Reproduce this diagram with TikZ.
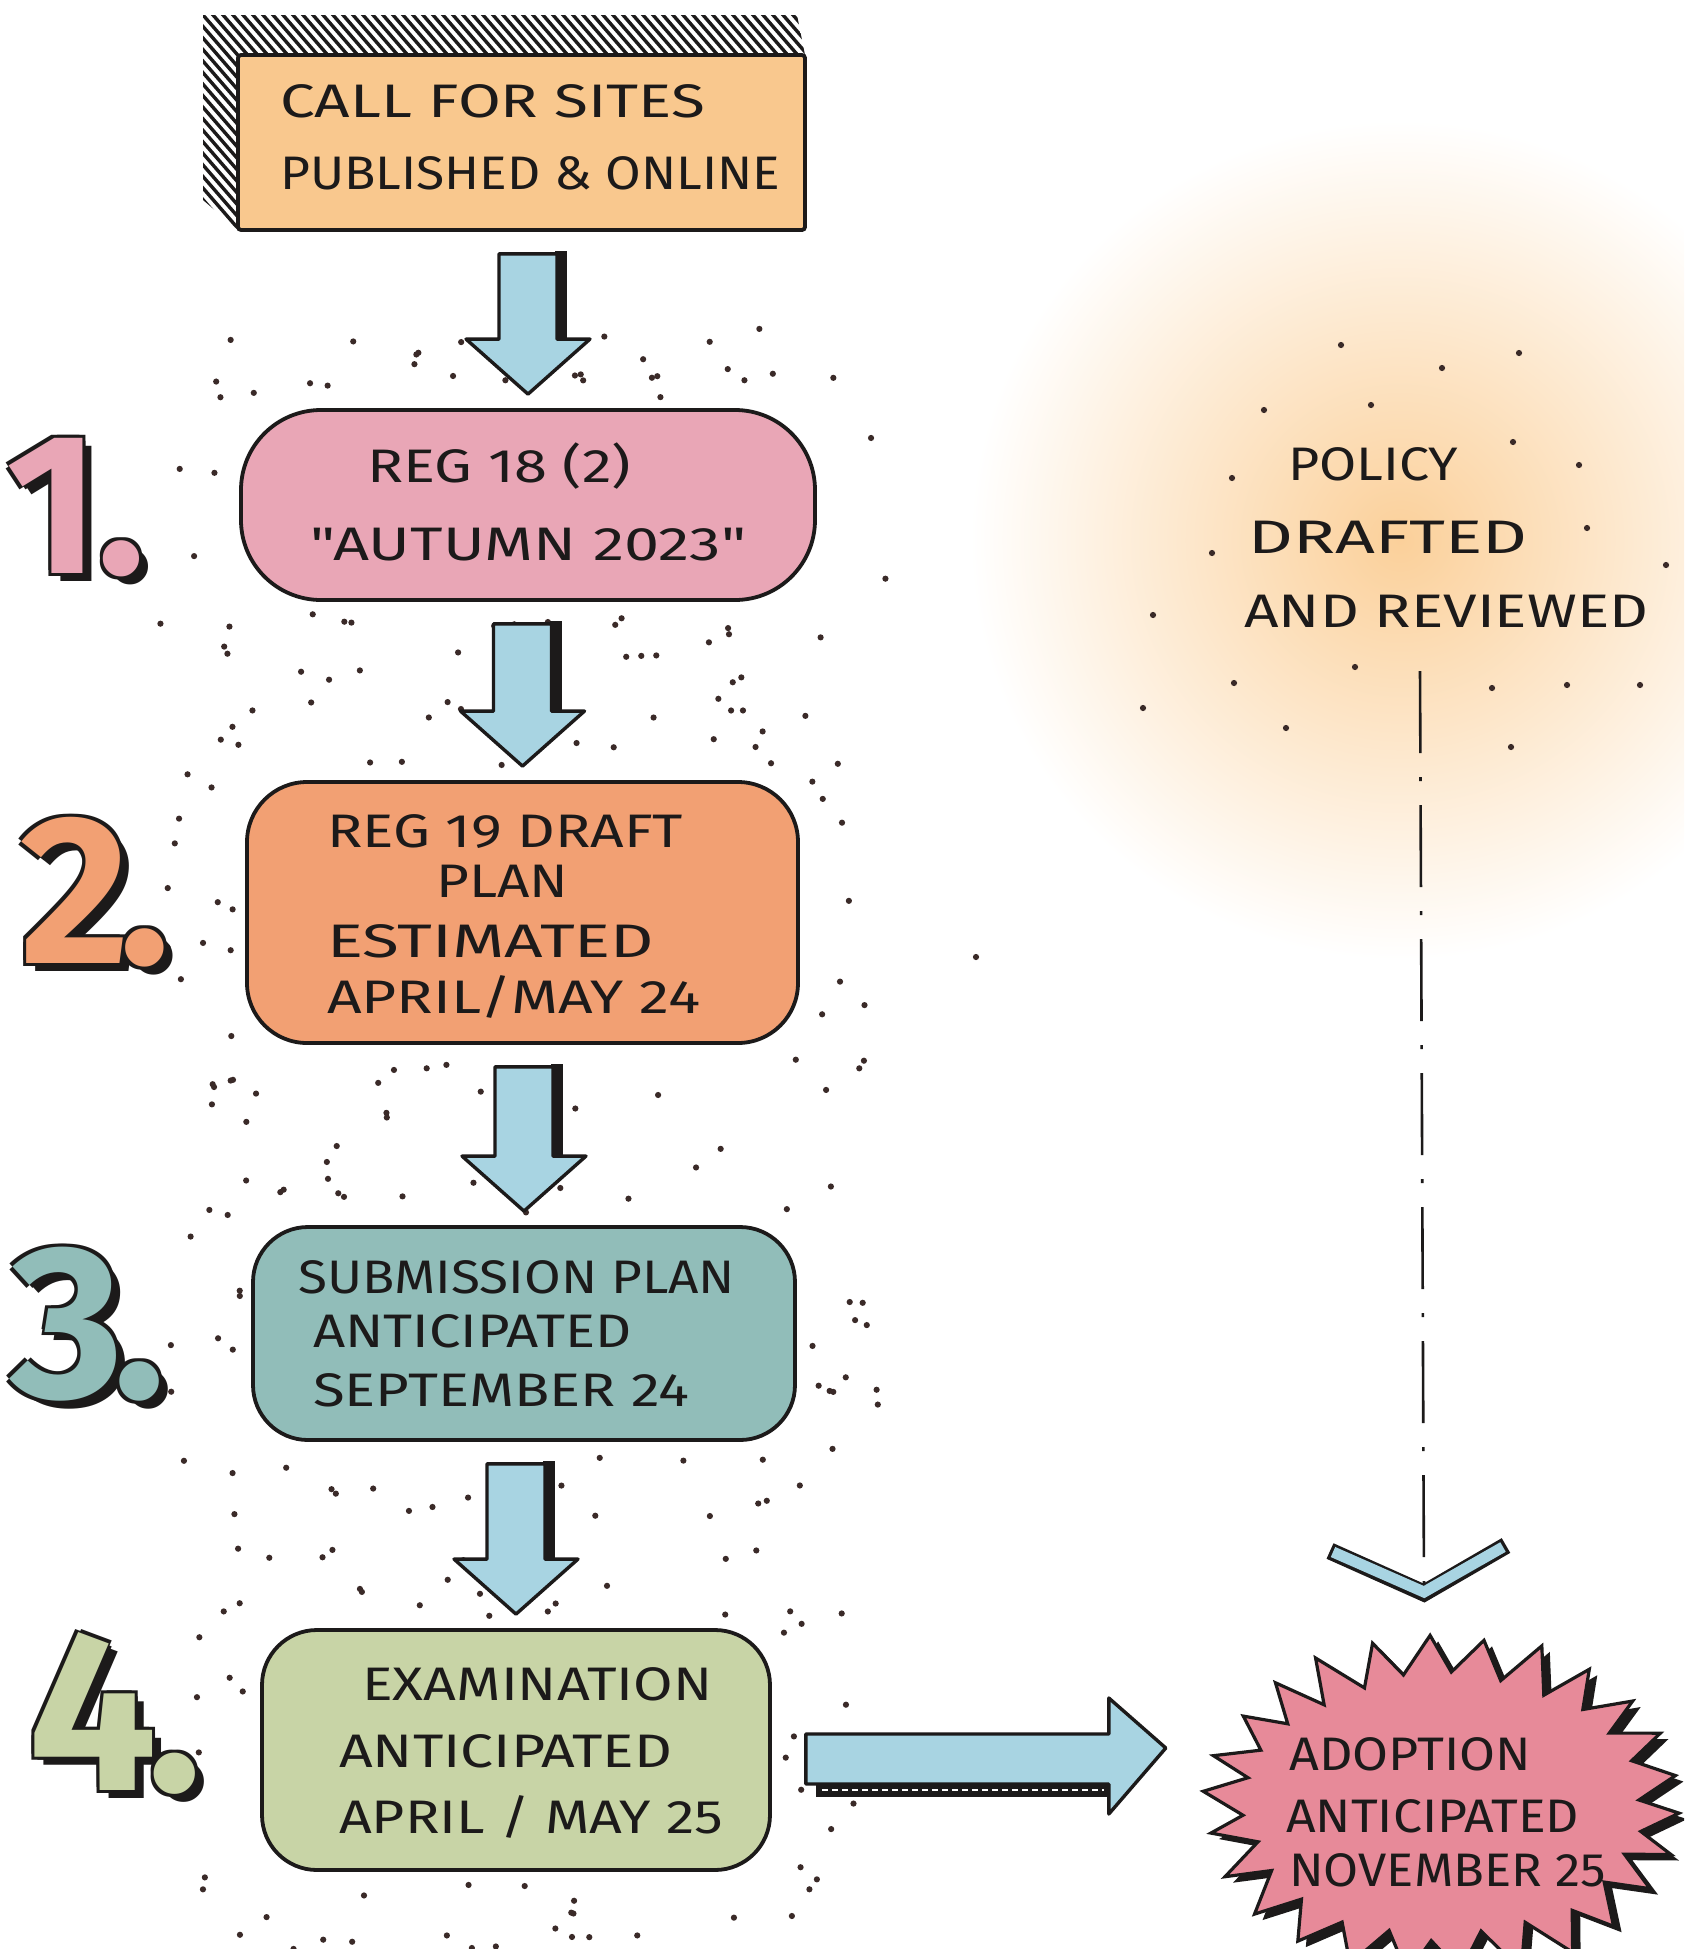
\documentclass[tikz,border=0pt]{standalone}
\usepackage{fontspec}
\usepackage{graphicx}
\setmainfont{Fira Sans}
\newfontfamily\handfont{Fira Sans}
\usetikzlibrary{calc}
\definecolor{ink}{HTML}{1C1A1A}
\definecolor{dotc}{HTML}{3A2A28}
\definecolor{c0}{HTML}{F9C88E}
\definecolor{c1}{HTML}{E9A6B6}
\definecolor{c2}{HTML}{F2A073}
\definecolor{c3}{HTML}{91BDB9}
\definecolor{c4}{HTML}{C8D4A6}
\definecolor{arrowc}{HTML}{A8D4E2}
\definecolor{starc}{HTML}{E78A99}
\definecolor{glowc}{HTML}{FBD09A}
\newcommand{\hl}[2]{\resizebox{#1pt}{\height}{#2}}
\newcommand{\bignum}[3]{{\fontsize{#1}{#1}\selectfont\bfseries
 \rlap{\kern9pt\raisebox{-8pt}{\color{ink}#3}}%
 \rlap{\kern3pt\raisebox{3pt}{\color{ink}#3}}%
 \rlap{\kern-3pt\raisebox{3pt}{\color{ink}#3}}%
 \rlap{\kern3pt\raisebox{-3pt}{\color{ink}#3}}%
 \rlap{\kern-3pt\raisebox{-3pt}{\color{ink}#3}}%
 {\color{#2}#3}}}
% stipple: x0 y0 W H count seed
\newcommand{\stipple}[6]{%
 \pgfmathsetseed{#6}%
 \foreach \k in {1,...,#5}{%
  \pgfmathsetmacro\t{rnd*(2*#3+2*#4)}%
  \pgfmathsetmacro\a{rnd}%
  \pgfmathsetmacro\d{12+rnd*72}%
  \pgfmathsetmacro\px{(\t<#3) ? (-40+\a*(#3+80)) : ((\t<#3+#4) ? (#3+\d) : ((\t<2*#3+#4) ? (-40+\a*(#3+80)) : (-\d)))}%
  \pgfmathsetmacro\py{(\t<#3) ? (-\d) : ((\t<#3+#4) ? (-30+\a*(#4+60)) : ((\t<2*#3+#4) ? (#4+\d) : (-30+\a*(#4+60))))}%
  \fill[dotc] ({#1+(\px)},{#2+(\py)}) circle (3.1pt);
 }}
% vertical block arrow from node #1 to node #2
\newcommand{\vblock}[2]{%
 \path let \p1=($(#1.south)+(0,22)$), \p2=($(#2.north)+(0,-14)$) in
   coordinate (vbs) at (\x2,\y1) coordinate (vbt) at (\x2,\y2);
 \fill[ink] ($(vbs)+(27,-3)$) rectangle ($(vbt)+(39,-55)$);
 \draw[arrowst] ($(vbs)+(-29,0)$) -- ($(vbs)+(29,0)$) -- ($(vbt)+(29,-55)$) -- ($(vbt)+(62,-55)$)
   -- (vbt) -- ($(vbt)+(-62,-55)$) -- ($(vbt)+(-29,-55)$) -- cycle;
}
\tikzset{
 box/.style={draw=ink, line width=3.8pt, rectangle, inner sep=0pt},
 arrowst/.style={fill=arrowc, draw=ink, line width=3.4pt, line join=round},
 hand/.style={font=\handfont\fontsize{47}{50}\selectfont, text=ink, inner sep=0pt, anchor=base west},
 numst/.style={inner sep=0pt, anchor=base west},
}
\begin{document}
\begin{tikzpicture}[x=1pt,y=-1pt]
\useasboundingbox (0,0) rectangle (1684,1949);
\fill[white] (0,0) rectangle (1684,1949);
\clip (0,0) rectangle (1684,1949);
% glow
\shade[inner color=glowc, outer color=white] (1400,540) ellipse [x radius=430pt, y radius=420pt];

% stipple dots
\stipple{241}{410}{574}{190}{62}{11}
\stipple{247}{782}{551}{261}{66}{23}
\stipple{253}{1227}{542}{213}{62}{37}
\stipple{262}{1630}{508}{240}{64}{41}
\foreach \p in {(1341,345),(1519,353),(1442,368),(1371,405),(1264,410),(1513,442),(1579,465),
  (1232,478),(1587,528),(1212,553),(1666,565),(1153,615),(1355,667),(1234,683),(1492,688),
  (1567,685),(1640,685),(1143,708),(1286,728),(1511,747),(976,957),(1437,1713)}
  \fill[dotc] \p circle (3.1pt);

% top box with hatched extrusion
\begin{scope}
 \clip (203,15) -- (797,15) -- (805,55) -- (238,55) -- (238,230) -- (203,200) -- cycle;
 \foreach \k in {-20,-10,...,830} \draw[ink, line width=3.4pt] (\k,0) -- ++(260,300);
\end{scope}
\node[box, fill=c0, rounded corners=3pt, minimum width=567pt, minimum height=175pt] (b0) at (521.5,142.5) {};
\node[box, fill=c1, rounded corners=80pt, minimum width=574pt, minimum height=190pt] (b1) at (528,505) {};
\node[box, fill=c2, rounded corners=60pt, minimum width=551pt, minimum height=261pt] (b2) at (522.5,912.5) {};
\node[box, fill=c3, rounded corners=55pt, minimum width=542pt, minimum height=213pt] (b3) at (524,1333.5) {};
\node[box, fill=c4, rounded corners=55pt, minimum width=508pt, minimum height=240pt] (b4) at (516,1750) {};
\node[inner sep=0pt, minimum width=464pt, minimum height=330pt] (star) at (1440,1800) {};

% block arrows
\vblock{b0}{b1}
\vblock{b1}{b2}
\vblock{b2}{b3}
\vblock{b3}{b4}

% horizontal arrow
\fill[ink] let \p1=($(b4.east)+(34,9)$), \p2=($(star.west)+(-42,0)$) in
  ({\x1+10pt},{\y1-20pt}) rectangle ({\x2-58pt},{\y1-38pt});
\draw[white, line width=2pt, dash pattern=on 6pt off 4pt] let \p1=($(b4.east)+(34,9)$), \p2=($(star.west)+(-42,0)$) in
  ({\x1+16pt},{\y1-31pt}) -- ({\x2-62pt},{\y1-31pt});
\draw[arrowst] let \p1=($(b4.east)+(34,9)$), \p2=($(star.west)+(-42,0)$) in
  (\x1,{\y1+25pt}) -- ({\x2-57pt},{\y1+25pt}) -- ({\x2-57pt},{\y1+61pt}) -- (\x2,{\y1+11pt})
  -- ({\x2-57pt},{\y1-55pt}) -- ({\x2-57pt},{\y1-25pt}) -- (\x1,{\y1-25pt}) -- cycle;

% starburst
\begin{scope}[shift={(star.center)}]
 \pgfmathsetseed{7}
 \fill[ink] plot[samples at={0,...,51}, variable=\i]
   ({8+(198+40*(1-mod(\i,2)))*cos(\i*6.923+3)+rnd*9}, {6+(132+38*(1-mod(\i,2)))*sin(\i*6.923+3)+rnd*9}) -- cycle;
 \pgfmathsetseed{7}
 \draw[ink, fill=starc, line width=3.2pt, line join=miter] plot[samples at={0,...,51}, variable=\i]
   ({(198+40*(1-mod(\i,2)))*cos(\i*6.923+3)+rnd*9}, {(132+38*(1-mod(\i,2)))*sin(\i*6.923+3)+rnd*9}) -- cycle;
\end{scope}

% dashed line and chevron
\coordinate (pstart) at (1420,671);
\coordinate (chev) at (1424,1592);
\draw[ink, line width=17pt, line join=miter] (1330,1551) -- (1424,1593) -- (1506,1545.5);
\draw[arrowc, line width=11pt, line join=miter] (1333,1552) -- (chev) -- (1503,1547);
\draw[ink, line width=2.6pt, dash pattern=on 82pt off 24pt on 4pt off 24pt] (pstart) -- ($(chev)+(0,-4)$);

% texts
\node[hand] (t0a) at (280,117) {\hl{425}{CALL FOR SITES}};
\node[hand] (t0b) at (280,189) {\hl{500}{PUBLISHED \& ONLINE}};
\node[hand] (t1a) at (367,482) {\hl{264}{REG 18 (2)}};
\node[hand] (t1b) at (310,560) {\hl{436}{"AUTUMN 2023"}};
\node[hand] (t2a) at (327,847) {\hl{356}{REG 19 DRAFT}};
\node[hand] (t2b) at (436,897) {\hl{132}{PLAN}};
\node[hand] (t2c) at (327,957) {\hl{327}{ESTIMATED}};
\node[hand] (t2d) at (327,1013) {\hl{373}{APRIL/MAY 24}};
\node[hand] (t3a) at (298,1293) {\hl{437}{SUBMISSION PLAN}};
\node[hand] (t3b) at (313,1347) {\hl{318}{ANTICIPATED}};
\node[hand] (t3c) at (313,1406) {\hl{376}{SEPTEMBER 24}};
\node[hand] (t4a) at (362,1700) {\hl{350}{EXAMINATION}};
\node[hand] (t4b) at (339,1767) {\hl{333}{ANTICIPATED}};
\node[hand] (t4c) at (339,1833) {\hl{384}{APRIL / MAY 25}};
\node[hand] (p1) at (1288,480) {\hl{170}{POLICY}};
\node[hand] (p2) at (1248,553) {\hl{279}{DRAFTED}};
\node[hand] (p3) at (1244,627) {\hl{404}{AND REVIEWED}};
\node[hand] (s1) at (1289,1770) {\hl{242}{ADOPTION}};
\node[hand] (s2) at (1286,1832) {\hl{293}{ANTICIPATED}};
\node[hand] (s3) at (1289,1886) {\hl{317}{NOVEMBER 25}};

% step numbers
\node[numst] (n1) at (6,573) {\bignum{200}{c1}{1\kern-2pt.}};
\node[numst] (n2) at (20,963) {\bignum{212}{c2}{2\kern-10pt.}};
\node[numst] (n3) at (10,1397) {\bignum{218}{c3}{3\kern-10pt.}};
\node[numst] (n4) at (28,1790) {\bignum{228}{c4}{4\kern-10pt.}};
\end{tikzpicture}
\end{document}
